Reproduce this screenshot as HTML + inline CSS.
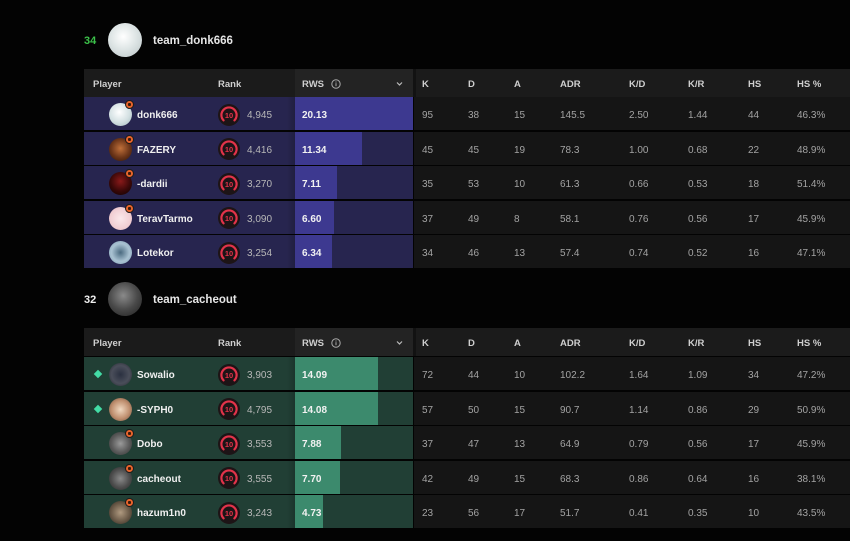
<!DOCTYPE html>
<html><head><meta charset="utf-8">
<style>
*{margin:0;padding:0;box-sizing:border-box}
body{width:850px;height:541px;background:#030303;position:relative;overflow:hidden;font-family:"Liberation Sans",sans-serif}
.abs{position:absolute}
.tnum{position:absolute;font-weight:bold;font-size:11px;line-height:14px}
.tav{position:absolute;width:34px;height:34px;border-radius:50%}
.tname{position:absolute;font-weight:bold;font-size:11.5px;color:#e6e6e6;line-height:14px}
.hdr{position:absolute;left:84px;width:766px;height:28px;background:#1b1b1b}
.hdr span{position:absolute;top:2px;line-height:28px;font-size:9.5px;font-weight:bold;color:#cfcfcf}
.hdr .rwsh{position:absolute;left:211px;top:0;width:118px;height:28px;background:#232323}
.hdr .sep{position:absolute;left:329px;top:0;width:3px;height:28px;background:#121212}
.row{position:absolute;left:84px;width:766px;height:33px}
.L{position:absolute;left:0;top:0;width:329px;height:33px}
.p .L{background:#27254f}
.g .L{background:#213f35}
.bar{position:absolute;left:211px;top:0;height:33px}
.p .bar{background:#3d3990}
.g .bar{background:#3c8a6d}
.shade{position:absolute;left:203px;top:0;width:8px;height:33px;background:linear-gradient(to right,rgba(0,0,0,0),rgba(0,0,0,0.18))}
.R{position:absolute;left:330px;top:0;width:436px;height:33px;background:#151515}
.row span{position:absolute;top:2px;line-height:33px;font-size:10px}
.nm{left:53px;font-weight:bold;color:#f0f0f0}
.rk{left:163px;color:#b8b8b8}
.rv{left:218px;font-weight:bold;color:#f2f2f2}
.st{color:#a3a3a3}
.av{position:absolute;left:25px;top:6px;width:23px;height:23px;border-radius:50%}
.badge{position:absolute;left:41px;top:3px;width:9px;height:9px;border-radius:50%;background:#e8642c;border:1px solid #1b1b1b}
.badge:after{content:"";position:absolute;left:2px;top:2px;width:3px;height:3px;background:#3a1a0a;border-radius:1px}
.rki{position:absolute;left:134px;top:6.5px;width:22px;height:22px}
.dia{position:absolute;left:11px;top:14px;width:6px;height:6px;background:#43dca6;transform:rotate(45deg)}
</style></head><body>

<!-- Team 1 header -->
<div class="tnum" style="left:84px;top:34px;color:#3cc24a">34</div>
<div class="tav" style="left:108px;top:23px;background:radial-gradient(circle at 45% 40%,#ffffff 0%,#dfe6e6 45%,#b9c4c6 100%)"></div>
<div class="tname" style="left:153px;top:34px">team_donk666</div>

<div class="hdr" style="top:69px">
  <div class="rwsh"></div><div class="sep"></div>
  <span style="left:9px">Player</span>
  <span style="left:134px">Rank</span>
  <span style="left:218px">RWS</span>
  <svg class="abs" style="left:247px;top:10px" width="10" height="10" viewBox="0 0 10 10"><circle cx="5" cy="5" r="4.2" fill="none" stroke="#aaa" stroke-width="1"/><rect x="4.5" y="4.2" width="1" height="3" fill="#aaa"/><rect x="4.5" y="2.5" width="1" height="1" fill="#aaa"/></svg>
  <svg class="abs" style="left:312px;top:12px" width="7" height="6" viewBox="0 0 7 6"><polyline points="1,1.5 3.5,4 6,1.5" fill="none" stroke="#bbb" stroke-width="1.2"/></svg>
  <span style="left:338px">K</span>
  <span style="left:384px">D</span>
  <span style="left:430px">A</span>
  <span style="left:476px">ADR</span>
  <span style="left:545px">K/D</span>
  <span style="left:604px">K/R</span>
  <span style="left:664px">HS</span>
  <span style="left:713px">HS %</span>
</div>

<svg width="0" height="0" style="position:absolute"><defs>
<g id="rank"><circle cx="11" cy="11" r="11" fill="#1d1416"/><path d="M5.6 16.4 A7.6 7.6 0 1 1 16.4 16.4" fill="none" stroke="#e2334a" stroke-width="2.2" stroke-linecap="round"/><text x="11" y="13.8" text-anchor="middle" font-family="Liberation Sans,sans-serif" font-size="7.5" font-weight="bold" fill="#e2334a">10</text></g>
</defs></svg>

<!-- Team 1 rows -->
<div class="row p" style="top:97px">
  <div class="L"><div class="shade"></div><div class="bar" style="width:118px"></div>
    <div class="av" style="background:radial-gradient(circle at 45% 40%,#ffffff,#d3e0e2 55%,#9fb5ba)"></div><div class="badge"></div>
    <span class="nm">donk666</span><svg class="rki"><use href="#rank"/></svg><span class="rk">4,945</span><span class="rv">20.13</span></div>
  <div class="R"></div>
  <span class="st" style="left:338px">95</span><span class="st" style="left:384px">38</span><span class="st" style="left:430px">15</span><span class="st" style="left:476px">145.5</span><span class="st" style="left:545px">2.50</span><span class="st" style="left:604px">1.44</span><span class="st" style="left:664px">44</span><span class="st" style="left:713px">46.3%</span>
</div>

<div class="row p" style="top:131.6px">
  <div class="L"><div class="shade"></div><div class="bar" style="width:66.5px"></div>
    <div class="av" style="background:radial-gradient(circle at 50% 45%,#c0703a,#6a3418 55%,#2a1208)"></div><div class="badge"></div>
    <span class="nm">FAZERY</span><svg class="rki"><use href="#rank"/></svg><span class="rk">4,416</span><span class="rv">11.34</span></div>
  <div class="R"></div>
  <span class="st" style="left:338px">45</span><span class="st" style="left:384px">45</span><span class="st" style="left:430px">19</span><span class="st" style="left:476px">78.3</span><span class="st" style="left:545px">1.00</span><span class="st" style="left:604px">0.68</span><span class="st" style="left:664px">22</span><span class="st" style="left:713px">48.9%</span>
</div>

<div class="row p" style="top:166.2px">
  <div class="L"><div class="shade"></div><div class="bar" style="width:41.7px"></div>
    <div class="av" style="background:radial-gradient(circle at 50% 40%,#8a1a1a,#3a0808 55%,#0c0202)"></div><div class="badge"></div>
    <span class="nm">-dardii</span><svg class="rki"><use href="#rank"/></svg><span class="rk">3,270</span><span class="rv">7.11</span></div>
  <div class="R"></div>
  <span class="st" style="left:338px">35</span><span class="st" style="left:384px">53</span><span class="st" style="left:430px">10</span><span class="st" style="left:476px">61.3</span><span class="st" style="left:545px">0.66</span><span class="st" style="left:604px">0.53</span><span class="st" style="left:664px">18</span><span class="st" style="left:713px">51.4%</span>
</div>

<div class="row p" style="top:200.8px">
  <div class="L"><div class="shade"></div><div class="bar" style="width:38.7px"></div>
    <div class="av" style="background:radial-gradient(circle at 50% 50%,#fbe8ea,#f1cfd4 60%,#e0b3ba)"></div><div class="badge"></div>
    <span class="nm">TeravTarmo</span><svg class="rki"><use href="#rank"/></svg><span class="rk">3,090</span><span class="rv">6.60</span></div>
  <div class="R"></div>
  <span class="st" style="left:338px">37</span><span class="st" style="left:384px">49</span><span class="st" style="left:430px">8</span><span class="st" style="left:476px">58.1</span><span class="st" style="left:545px">0.76</span><span class="st" style="left:604px">0.56</span><span class="st" style="left:664px">17</span><span class="st" style="left:713px">45.9%</span>
</div>

<div class="row p" style="top:235.4px">
  <div class="L"><div class="shade"></div><div class="bar" style="width:37.2px"></div>
    <div class="av" style="background:radial-gradient(circle at 50% 50%,#4a6a80,#a9c2d2 55%,#7e9db2)"></div>
    <span class="nm">Lotekor</span><svg class="rki"><use href="#rank"/></svg><span class="rk">3,254</span><span class="rv">6.34</span></div>
  <div class="R"></div>
  <span class="st" style="left:338px">34</span><span class="st" style="left:384px">46</span><span class="st" style="left:430px">13</span><span class="st" style="left:476px">57.4</span><span class="st" style="left:545px">0.74</span><span class="st" style="left:604px">0.52</span><span class="st" style="left:664px">16</span><span class="st" style="left:713px">47.1%</span>
</div>

<!-- Team 2 header -->
<div class="tnum" style="left:84px;top:293px;color:#f0f0f0">32</div>
<div class="tav" style="left:108px;top:282px;background:radial-gradient(circle at 45% 40%,#8a8a8a,#4a4a4a 50%,#1e1e1e)"></div>
<div class="tname" style="left:153px;top:293px">team_cacheout</div>

<div class="hdr" style="top:328px">
  <div class="rwsh"></div><div class="sep"></div>
  <span style="left:9px">Player</span>
  <span style="left:134px">Rank</span>
  <span style="left:218px">RWS</span>
  <svg class="abs" style="left:247px;top:10px" width="10" height="10" viewBox="0 0 10 10"><circle cx="5" cy="5" r="4.2" fill="none" stroke="#aaa" stroke-width="1"/><rect x="4.5" y="4.2" width="1" height="3" fill="#aaa"/><rect x="4.5" y="2.5" width="1" height="1" fill="#aaa"/></svg>
  <svg class="abs" style="left:312px;top:12px" width="7" height="6" viewBox="0 0 7 6"><polyline points="1,1.5 3.5,4 6,1.5" fill="none" stroke="#bbb" stroke-width="1.2"/></svg>
  <span style="left:338px">K</span>
  <span style="left:384px">D</span>
  <span style="left:430px">A</span>
  <span style="left:476px">ADR</span>
  <span style="left:545px">K/D</span>
  <span style="left:604px">K/R</span>
  <span style="left:664px">HS</span>
  <span style="left:713px">HS %</span>
</div>

<!-- Team 2 rows -->
<div class="row g" style="top:357px">
  <div class="L"><div class="shade"></div><div class="bar" style="width:82.6px"></div><div class="dia"></div>
    <div class="av" style="background:radial-gradient(circle at 50% 50%,#2a3040,#4a4e5a 55%,#22242c)"></div>
    <span class="nm">Sowalio</span><svg class="rki"><use href="#rank"/></svg><span class="rk">3,903</span><span class="rv">14.09</span></div>
  <div class="R"></div>
  <span class="st" style="left:338px">72</span><span class="st" style="left:384px">44</span><span class="st" style="left:430px">10</span><span class="st" style="left:476px">102.2</span><span class="st" style="left:545px">1.64</span><span class="st" style="left:604px">1.09</span><span class="st" style="left:664px">34</span><span class="st" style="left:713px">47.2%</span>
</div>

<div class="row g" style="top:391.6px">
  <div class="L"><div class="shade"></div><div class="bar" style="width:82.5px"></div><div class="dia"></div>
    <div class="av" style="background:radial-gradient(circle at 50% 50%,#f0d8c0,#c09070 55%,#6a4a38)"></div>
    <span class="nm">-SYPH0</span><svg class="rki"><use href="#rank"/></svg><span class="rk">4,795</span><span class="rv">14.08</span></div>
  <div class="R"></div>
  <span class="st" style="left:338px">57</span><span class="st" style="left:384px">50</span><span class="st" style="left:430px">15</span><span class="st" style="left:476px">90.7</span><span class="st" style="left:545px">1.14</span><span class="st" style="left:604px">0.86</span><span class="st" style="left:664px">29</span><span class="st" style="left:713px">50.9%</span>
</div>

<div class="row g" style="top:426.2px">
  <div class="L"><div class="shade"></div><div class="bar" style="width:46.2px"></div>
    <div class="av" style="background:radial-gradient(circle at 50% 50%,#9a9a9a,#5a5a5a 55%,#303030)"></div><div class="badge"></div>
    <span class="nm">Dobo</span><svg class="rki"><use href="#rank"/></svg><span class="rk">3,553</span><span class="rv">7.88</span></div>
  <div class="R"></div>
  <span class="st" style="left:338px">37</span><span class="st" style="left:384px">47</span><span class="st" style="left:430px">13</span><span class="st" style="left:476px">64.9</span><span class="st" style="left:545px">0.79</span><span class="st" style="left:604px">0.56</span><span class="st" style="left:664px">17</span><span class="st" style="left:713px">45.9%</span>
</div>

<div class="row g" style="top:460.8px">
  <div class="L"><div class="shade"></div><div class="bar" style="width:45.1px"></div>
    <div class="av" style="background:radial-gradient(circle at 50% 50%,#8a8a8a,#4e4e4e 55%,#262626)"></div><div class="badge"></div>
    <span class="nm">cacheout</span><svg class="rki"><use href="#rank"/></svg><span class="rk">3,555</span><span class="rv">7.70</span></div>
  <div class="R"></div>
  <span class="st" style="left:338px">42</span><span class="st" style="left:384px">49</span><span class="st" style="left:430px">15</span><span class="st" style="left:476px">68.3</span><span class="st" style="left:545px">0.86</span><span class="st" style="left:604px">0.64</span><span class="st" style="left:664px">16</span><span class="st" style="left:713px">38.1%</span>
</div>

<div class="row g" style="top:495.4px">
  <div class="L"><div class="shade"></div><div class="bar" style="width:27.7px"></div>
    <div class="av" style="background:radial-gradient(circle at 50% 50%,#b09a80,#6a5a48 55%,#2e261e)"></div><div class="badge"></div>
    <span class="nm">hazum1n0</span><svg class="rki"><use href="#rank"/></svg><span class="rk">3,243</span><span class="rv">4.73</span></div>
  <div class="R"></div>
  <span class="st" style="left:338px">23</span><span class="st" style="left:384px">56</span><span class="st" style="left:430px">17</span><span class="st" style="left:476px">51.7</span><span class="st" style="left:545px">0.41</span><span class="st" style="left:604px">0.35</span><span class="st" style="left:664px">10</span><span class="st" style="left:713px">43.5%</span>
</div>

</body></html>
